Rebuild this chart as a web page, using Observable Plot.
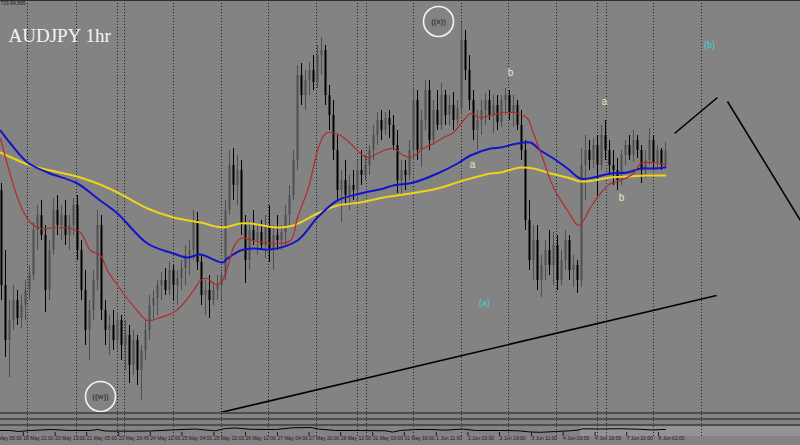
<!DOCTYPE html>
<html><head><meta charset="utf-8">
<script src="https://cdn.jsdelivr.net/npm/d3@7"></script>
<script src="https://cdn.jsdelivr.net/npm/@observablehq/plot@0.6"></script>
<style>
html,body{margin:0;padding:0;background:#838383;}
#wrap{position:relative;width:800px;height:445px;overflow:hidden;background:#838383;}
#main,#sub{position:absolute;left:0;}
#main{top:0}
#sub{top:426px}
.sep{position:absolute;left:0;width:800px;height:2px;background:#4e4e4e;}
svg{display:block;}
</style></head><body>
<div id="wrap">
  <div id="main"></div>
  <div id="sub"></div>
  <div class="sep" style="top:0;height:1px;background:#2e2e2e"></div>
  <div class="sep" style="top:411.5px"></div>
  <div class="sep" style="top:417.5px"></div>
  <div class="sep" style="top:424px"></div>
</div>
<script>
const opens = [83.10,82.15,81.60,81.80,82.00,81.82,81.95,82.10,82.25,82.70,
82.85,82.65,82.10,82.50,82.90,82.75,82.85,82.65,82.75,82.95,
82.50,82.10,81.70,81.90,82.20,82.75,81.90,81.70,81.75,81.60,
81.80,81.55,81.65,81.35,81.60,81.30,81.50,81.70,81.95,82.02,
82.15,82.20,82.10,82.30,82.15,82.22,82.32,82.45,82.50,82.80,
82.38,82.05,82.10,82.00,82.10,82.15,82.25,82.90,83.35,83.15,
83.30,82.75,82.40,82.70,82.60,82.68,82.55,82.75,82.50,82.65,
82.60,82.68,82.85,83.05,83.40,84.25,84.05,84.20,84.30,84.18,
84.45,84.50,84.05,83.85,83.50,83.10,83.20,83.05,83.15,83.10,
83.30,83.25,83.35,83.50,83.65,83.80,83.70,83.82,83.75,83.55,
83.20,83.30,83.25,83.50,84.00,83.50,83.80,84.10,83.60,83.90,
83.75,84.05,83.85,83.95,83.80,83.92,84.60,84.30,84.00,83.70,
83.80,83.90,84.00,83.85,83.95,83.78,84.00,84.05,83.88,83.95,
83.75,83.50,82.80,82.40,82.60,82.20,82.35,82.50,82.35,82.55,
82.20,82.40,82.60,82.30,82.35,82.20,83.35,83.50,83.40,83.55,
83.35,83.65,83.50,83.35,83.30,83.20,83.45,83.55,83.45,83.60,
83.50,83.30,83.40,83.60,83.38,83.50,83.35];
const highs = [83.17,82.50,82.00,82.15,82.10,82.05,82.20,82.35,82.78,82.95,
83.00,82.75,82.60,83.02,83.05,82.95,83.00,82.85,83.02,83.05,
82.60,82.30,82.00,82.30,82.90,82.85,82.00,81.85,81.90,81.88,
81.85,81.80,81.75,81.70,81.65,81.55,81.80,82.05,82.10,82.20,
82.28,82.32,82.38,82.35,82.30,82.40,82.55,82.60,82.90,82.88,
82.45,82.20,82.25,82.18,82.25,82.28,83.00,83.50,83.52,83.45,
83.40,82.85,82.80,82.90,82.75,82.80,82.85,82.95,82.75,82.85,
82.75,82.95,83.15,83.50,84.35,84.37,84.30,84.38,84.45,84.55,
84.63,84.55,84.15,84.00,83.65,83.30,83.40,83.25,83.30,83.40,
83.50,83.45,83.55,83.75,83.88,83.90,83.88,83.90,83.85,83.70,
83.40,83.40,83.60,84.13,84.10,83.90,84.20,84.20,84.00,84.10,
84.17,84.10,84.05,84.08,84.00,84.78,84.70,84.45,84.10,83.90,
84.00,84.07,84.10,84.05,84.05,84.05,84.12,84.10,84.05,84.00,
83.90,83.60,83.00,82.75,82.75,82.45,82.60,82.70,82.68,82.65,
82.50,82.70,82.65,82.45,82.40,83.52,83.65,83.60,83.62,83.65,
83.75,83.80,83.60,83.50,83.42,83.50,83.60,83.65,83.70,83.65,
83.55,83.50,83.72,83.65,83.55,83.52,83.58];
const lows = [82.00,81.43,81.23,81.70,81.75,81.72,81.80,82.00,82.20,82.50,
82.60,81.88,82.00,82.45,82.65,82.60,82.55,82.50,82.65,82.40,
82.00,81.55,81.40,81.80,82.10,81.80,81.55,81.45,81.50,81.50,
81.40,81.30,81.17,81.25,81.15,81.00,81.40,81.60,81.80,81.85,
82.00,82.05,82.05,82.00,81.95,82.10,82.15,82.25,82.40,82.30,
81.95,81.85,81.82,81.95,82.00,82.00,82.20,82.85,83.00,82.95,
82.65,82.17,82.30,82.55,82.45,82.50,82.42,82.38,82.30,82.50,
82.50,82.55,82.75,83.00,83.30,83.95,83.90,84.05,84.10,84.12,
84.25,83.95,83.70,83.40,83.00,82.78,82.95,82.90,83.00,82.95,
83.15,83.20,83.25,83.40,83.55,83.60,83.65,83.62,83.50,83.07,
83.05,83.10,83.20,83.40,83.40,83.33,83.70,83.50,83.55,83.70,
83.70,83.75,83.75,83.70,83.75,83.85,84.20,83.90,83.60,83.50,
83.65,83.75,83.80,83.67,83.70,83.73,83.85,83.80,83.73,83.70,
83.40,82.70,82.30,82.20,82.10,82.03,82.20,82.25,82.15,82.10,
82.15,82.30,82.20,82.13,82.07,82.13,83.00,83.30,83.32,83.05,
83.30,83.40,83.25,83.15,83.10,83.15,83.35,83.40,83.38,83.42,
83.17,83.22,83.35,83.30,83.32,83.30,83.32];
const closes = [82.15,81.60,81.80,82.00,81.82,81.95,82.10,82.25,82.70,82.85,
82.65,82.10,82.50,82.90,82.75,82.85,82.65,82.75,82.95,82.50,
82.10,81.70,81.90,82.20,82.75,81.90,81.70,81.75,81.60,81.80,
81.55,81.65,81.35,81.60,81.30,81.50,81.70,81.95,82.02,82.15,
82.20,82.10,82.30,82.15,82.22,82.32,82.45,82.50,82.80,82.38,
82.05,82.10,82.00,82.10,82.15,82.25,82.90,83.35,83.15,83.30,
82.75,82.40,82.70,82.60,82.68,82.55,82.75,82.50,82.65,82.60,
82.68,82.85,83.05,83.40,84.25,84.05,84.20,84.30,84.18,84.45,
84.50,84.05,83.85,83.50,83.10,83.20,83.05,83.15,83.10,83.30,
83.25,83.35,83.50,83.65,83.80,83.70,83.82,83.75,83.55,83.20,
83.30,83.25,83.50,84.00,83.50,83.80,84.10,83.60,83.90,83.75,
84.05,83.85,83.95,83.80,83.92,84.60,84.30,84.00,83.70,83.80,
83.90,84.00,83.85,83.95,83.78,84.00,84.05,83.88,83.95,83.75,
83.50,82.80,82.40,82.60,82.20,82.35,82.50,82.35,82.55,82.20,
82.40,82.60,82.30,82.35,82.20,83.35,83.50,83.40,83.55,83.35,
83.65,83.50,83.35,83.30,83.20,83.45,83.55,83.45,83.60,83.50,
83.30,83.40,83.60,83.38,83.50,83.35,83.50];

// Moving averages [bar, price]
const maRed = [[-0.25,83.62],[2.25,83.25],[4.75,82.95],[7.25,82.78],[9.75,82.72],[13.5,82.73],[17.25,82.72],[19.75,82.68],[22.25,82.50],[24.75,82.45],[26.5,82.30],[30.5,82.07],[33.5,81.92],[36.5,81.80],[39.75,81.83],[43,81.88],[45.5,81.97],[48,82.10],[49.75,82.20],[51.5,82.22],[53,82.17],[54.75,82.17],[56.5,82.33],[58,82.53],[59.75,82.62],[63,82.60],[67.25,82.57],[72.25,82.60],[74,82.83],[76.75,83.13],[79.25,83.53],[81,83.67],[83,83.68],[84.75,83.65],[87.25,83.57],[89.75,83.47],[91.5,83.43],[94,83.47],[95.5,83.50],[98,83.52],[100.5,83.45],[102.25,83.43],[104,83.47],[105.5,83.52],[108,83.57],[110.5,83.63],[113,83.68],[115.5,83.80],[117.25,83.87],[119.75,83.83],[122.25,83.85],[125.5,83.88],[129,83.87],[131.5,83.82],[133,83.67],[135.5,83.40],[138,83.13],[141.5,82.90],[144.25,82.75],[145.5,82.80],[147.25,82.93],[149.75,83.07],[152.25,83.17],[154.75,83.20],[158,83.27],[159.75,83.37],[162.25,83.38],[164.75,83.37],[166,83.35]];
const maBlue = [[-0.25,83.70],[2.25,83.57],[6.5,83.38],[11.5,83.28],[19,83.17],[24,83.02],[29,82.87],[36.5,82.57],[43,82.47],[46.5,82.43],[49.75,82.46],[55.25,82.38],[56.5,82.42],[59.75,82.50],[63,82.52],[67.25,82.51],[74,82.60],[79,82.83],[84,83.00],[89.75,83.07],[95.5,83.12],[98,83.15],[103,83.18],[109,83.27],[114,83.37],[117.25,83.45],[122.25,83.52],[124.75,83.53],[129,83.57],[132.25,83.58],[134.75,83.50],[138,83.42],[141.5,83.32],[144.75,83.22],[148,83.23],[152.25,83.27],[156.5,83.28],[159.75,83.32],[163,83.32],[166,83.33]];
const maYellow = [[-0.25,83.48],[7.25,83.35],[12.25,83.30],[18,83.25],[24,83.17],[29,83.08],[36.5,82.92],[43,82.83],[49.75,82.78],[55.25,82.73],[59.75,82.77],[62.25,82.77],[69,82.73],[73,82.75],[79,82.87],[84,82.95],[89.75,82.98],[95.5,83.03],[102.25,83.07],[109,83.12],[115.5,83.20],[122.25,83.27],[124.75,83.28],[129.75,83.33],[133,83.32],[137.25,83.27],[141.5,83.23],[144.75,83.19],[148,83.20],[152.25,83.23],[156.5,83.24],[161.5,83.25],[166,83.25]];

// Wave trend lines [[bar, price],[bar, price]]
const trendLines = [
  [[54.75,80.88],[178.75,82.05]],
  [[168.25,83.67],[179,84.03]],
  [[181.5,83.99],[199.75,82.80]]
];
// Wave labels
const circleLabels = [{bar:24.75, price:81.04, text:"((w))"},{bar:109.25, price:84.79, text:"((x))"}];
const smallLabels = [{bar:127.25,price:84.28,text:"b"},{bar:117.75,price:83.36,text:"a"},{bar:150.75,price:83.99,text:"a"},{bar:155,price:83.03,text:"b"}];
const degreeLabels = [{bar:120.75,price:81.97,text:"(a)"},{bar:177,price:84.55,text:"(b)"}];

// Period separators (bar positions) and time axis
const separatorBars = [6.5,18.75,29,30.75,43,55,66.75,78.75,89,91.25,103,115,126.75,138.75,149,151.25,163,175];
const tickBars = [-3,4.95,12.9,20.8,28.8,36.7,44.6,52.6,60.5,68.5,76.4,84.3,92.3,100.2,108.2,116.1,124,132,139.9,147.9,155.8,163.75];
const tickLabels = ["18 May 05:00","18 May 21:00","20 May 13:00","21 May 05:00","23 May 20:45","24 May 12:00","25 May 04:00","25 May 20:00","26 May 12:00","27 May 04:00","27 May 20:00","28 May 12:00","31 May 03:00","31 May 19:00","1 Jun 11:00","2 Jun 03:00","2 Jun 19:00","3 Jun 11:00","4 Jun 03:00","4 Jun 19:00","7 Jun 10:00","8 Jun 02:00"];

// Sub-window oscillator
const oscBar = [-0.25,2.25,4.25,7.25,12.25,17.25,22.25,24,26,32.25,37.25,42.25,48.5,51,53.5,56,58.5,62.25,68.5,72.75,77.25,79.25,83.5,89.75,96,97.75,99.75,103.5,107.25,111,115.25,118.5,124.75,129.25,132.25,134.75,138.5,142.25,144.25,145.25,149.75,154.75,159.75,163,164.75,166];
const oscVal = [0,0,-1,0,1,0,0,1,-0.5,-0.7,-0.5,0.5,1.5,0.5,-0.3,2,2.5,1.2,1,2.7,3,1.5,0,0,-0.3,-1.6,0,1,1,0.3,1.5,0,0,-0.3,-1.5,-1.8,-1,-0.3,0.5,1.7,1.5,1.8,1.2,0.5,1,1];

// ---- Build ----
const candles = opens.map((o, i) => ({i, o, h: highs[i], l: lows[i], c: closes[i], up: closes[i] >= o}));
const osc = oscBar.map((b, k) => ({b, v: oscVal[k]}));
const xDomain = [-0.25, 199.75];
const bearCol = "#000000", bullCol = "#4f4f4f";

const main = Plot.plot({
  width: 800, height: 426,
  marginTop: 0, marginRight: 0, marginBottom: 0, marginLeft: 0,
  x: {domain: xDomain, range: [0, 800], axis: null},
  y: {domain: [80.9, 85.0], range: [410, 0], axis: null},
  style: {background: "transparent", fontFamily: "Liberation Sans"},
  marks: [
    Plot.ruleX(separatorBars, {x: d => d, stroke: "#111", strokeWidth: 1, strokeDasharray: "1,2", strokeOpacity: 0.85}),
    Plot.ruleX(candles, {x: "i", y1: "l", y2: "h", stroke: d => d.up ? bullCol : bearCol, strokeWidth: 1}),
    Plot.ruleX(candles, {x: "i", y1: "o", y2: "c", stroke: d => d.up ? bullCol : bearCol, strokeWidth: 2}),
    Plot.line(maYellow, {x: d => d[0], y: d => d[1], stroke: "#efd21c", strokeWidth: 2, curve: "catmull-rom"}),
    Plot.line(maBlue, {x: d => d[0], y: d => d[1], stroke: "#1414c8", strokeWidth: 2, curve: "catmull-rom"}),
    Plot.line(maRed, {x: d => d[0], y: d => d[1], stroke: "#b22c2c", strokeWidth: 1.2, curve: "catmull-rom"}),
    Plot.link(trendLines, {x1: d => d[0][0], y1: d => d[0][1], x2: d => d[1][0], y2: d => d[1][1], stroke: "#000", strokeWidth: 1.6}),
    Plot.dot(circleLabels, {x: "bar", y: "price", r: 15, stroke: "#f4f4f4", strokeWidth: 1.6, fill: "none"}),
    Plot.text(circleLabels, {x: "bar", y: "price", text: "text", fill: "#1e1e1e", fontSize: 8}),
    Plot.text(smallLabels, {x: "bar", y: "price", text: "text", fill: "#f3e3c6", fontSize: 10}),
    Plot.text(degreeLabels, {x: "bar", y: "price", text: "text", fill: "#3fd3d3", fontSize: 9}),
    Plot.text(["AUDJPY 1hr"], {text: d => d, frameAnchor: "top-left", textAnchor: "start", lineAnchor: "top", dx: 8, dy: 28, fontSize: 19, fontFamily: "Liberation Serif", fill: "#f5f5f5"}),
    Plot.text(["729 84.895"], {text: d => d, frameAnchor: "top-left", textAnchor: "start", lineAnchor: "top", dx: 0, dy: 1, fontSize: 5, fill: "#1e1e1e"})
  ]
});
document.getElementById("main").appendChild(main);

const sub = Plot.plot({
  width: 800, height: 19,
  marginTop: 0, marginRight: 0, marginBottom: 9, marginLeft: 0,
  x: {domain: xDomain, range: [0, 800]},
  y: {domain: [-6, 4], axis: null},
  style: {background: "transparent", fontFamily: "Liberation Sans", fontSize: "5px"},
  marks: [
    Plot.rect([{x1: 144.75, x2: 199.75}], {x1: "x1", x2: "x2", y1: -6, y2: 4, fill: "#939393"}),
    Plot.ruleX(separatorBars, {x: d => d, stroke: "#111", strokeWidth: 1, strokeDasharray: "1,2", strokeOpacity: 0.85}),
    Plot.line(osc, {x: "b", y: "v", stroke: "#000", strokeWidth: 1}),
    Plot.axisX({ticks: tickBars, tickFormat: d => tickLabels[tickBars.indexOf(d)], tickSize: 4, tickPadding: 0, textAnchor: "start", dx: 2, dy: -4, fontSize: 5, color: "#1a1a1a"})
  ]
});
document.getElementById("sub").appendChild(sub);
</script>
</body></html>
